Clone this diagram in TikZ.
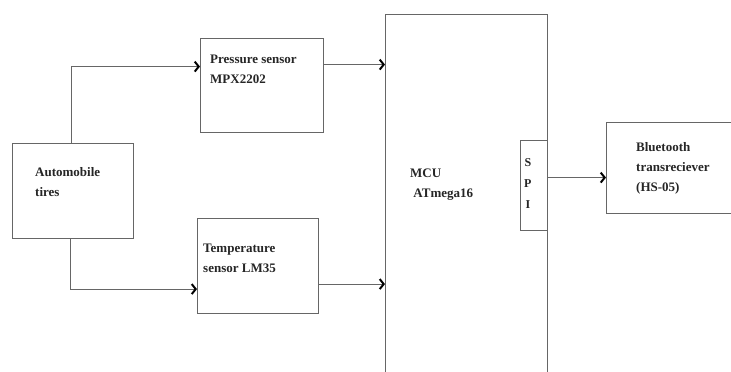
\documentclass[tikz,border=0pt]{standalone}
\usepackage{fontspec}
\setmainfont{Liberation Serif}
\usetikzlibrary{arrows.meta, positioning, calc}
\tikzset{
  block/.style={draw=black!60, line width=1.2pt, anchor=north west, inner sep=0pt},
  lbl/.style={anchor=north west, align=left, inner sep=0pt, font=\fontsize{13}{20}\selectfont\bfseries, text=black!85},
  link/.style={draw=black!60, line width=1.2pt, -{Straight Barb[length=4pt, width=10pt, line width=2pt, black]}}
}

\begin{document}
\begin{tikzpicture}[x=1pt, y=-1pt]
        \useasboundingbox[fill=white] (0,0) rectangle (731,372);

        % Blocks
        \node[block, minimum width=121pt, minimum height=95pt]  (tires)    at (12,143)  {};
        \node[block, minimum width=123pt, minimum height=94pt]  (pressure) at (200,38)  {};
        \node[block, minimum width=121pt, minimum height=95pt]  (temp)     at (197,218) {};
        \node[block, minimum width=162pt, minimum height=370pt] (mcu)      at (385,14)  {};
        \node[block, minimum width=27pt, minimum height=90pt, fill=white] (spi) at (520,140) {};
        \node[block, minimum width=140pt, minimum height=91pt]  (bt)       at (606,122) {};

        % Texts
        \node[lbl] (tirestxt)    at (35,167)  {Automobile\\tires};
        \node[lbl] (pressuretxt) at (210,55)  {Pressure sensor\\MPX2202};
        \node[lbl] (temptxt)     at (203,244) {Temperature\\sensor LM35};
        \node[lbl] (mcutxt)      at (410,169) {MCU\\\ ATmega16};
        \node[lbl, align=center, font=\fontsize{12}{21}\selectfont\bfseries] (spitxt) at (524,158) {S\\P\\I};
        \node[lbl] (bttxt)       at (636,142) {Bluetooth\\transreciever\\(HS-05)};

        % Links
        \draw[link] ([xshift=-2pt]tires.north) |- ([yshift=19pt]pressure.west);
        \draw[link] ([xshift=-3pt]tires.south) |- ([yshift=-23pt]temp.west);
        \draw[link] ([yshift=21pt]pressure.east) -- ([yshift=21pt]pressure.east -| mcu.west);
        \draw[link] ([yshift=-18pt]temp.east) -- ([yshift=-18pt]temp.east -| mcu.west);

        \coordinate (spiout) at ([yshift=8pt]spi.east);
        \draw[link] (spiout) -- (spiout -| bt.west);
    \end{tikzpicture}
\end{document}
